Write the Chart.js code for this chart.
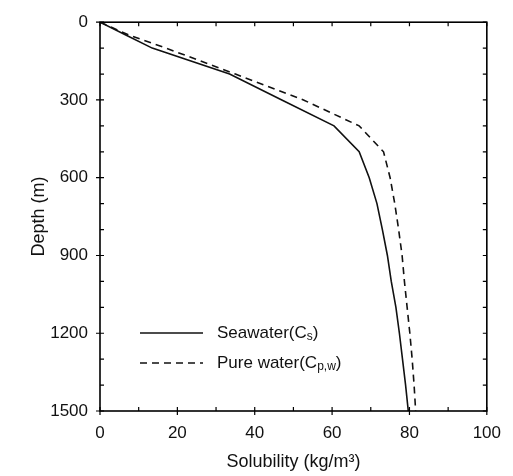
<!DOCTYPE html>
<html>
<head>
<meta charset="utf-8">
<script src="https://cdn.jsdelivr.net/npm/chart.js@4.4.1/dist/chart.umd.min.js"></script>
<style>
  html, body { margin: 0; padding: 0; background: #fff; }
  #wrap { width: 513px; height: 476px; }
</style>
</head>
<body>
<div id="wrap"><canvas id="chart" width="513" height="476"></canvas></div>
<script>
// depth (m) and solubility (kg/m3)
const depths = [0, 50, 100, 200, 300, 400, 500, 600, 700, 800, 900, 1000, 1100, 1200, 1300, 1400, 1500];
const seawater = [0, 6.8, 13.5, 33.5, 47, 60.5, 67, 69.6, 71.6, 73.0, 74.3, 75.3, 76.5, 77.4, 78.2, 79.0, 79.7];
const pureWater = [0, 7.5, 17.1, 35.0, 52.6, 67.0, 73.3, 75.0, 76.2, 77.2, 78.1, 78.7, 79.4, 80.1, 80.7, 81.2, 81.6];
const xTicks = [0, 20, 40, 60, 80, 100];
const yTicks = [0, 300, 600, 900, 1200, 1500];

const FONT = "'Liberation Sans', Arial, sans-serif";

function toPoints(vals) {
  return vals.map((v, i) => ({ x: v, y: depths[i] }));
}

// box + inward tick marks like the original plot
const framePlugin = {
  id: 'frame',
  afterDraw(chart) {
    const { ctx, chartArea: a, scales } = chart;
    const xs = scales.x, ys = scales.y;
    ctx.save();
    ctx.strokeStyle = '#000';
    ctx.lineWidth = 1.6;
    ctx.strokeRect(a.left, a.top, a.right - a.left, a.bottom - a.top);
    ctx.lineWidth = 1.2;
    ctx.beginPath();
    for (let v = 0; v <= 100; v += 10) {
      const px = xs.getPixelForValue(v);
      const major = xTicks.includes(v);
      ctx.moveTo(px, a.bottom + (major ? 4 : 0));
      ctx.lineTo(px, a.bottom - 4);
      ctx.moveTo(px, a.top);
      ctx.lineTo(px, a.top + 4);
    }
    for (let d = 0; d <= 1500; d += 100) {
      const py = ys.getPixelForValue(d);
      const major = yTicks.includes(d);
      ctx.moveTo(a.left - (major ? 4 : 0), py);
      ctx.lineTo(a.left + 4, py);
      ctx.moveTo(a.right, py);
      ctx.lineTo(a.right - 4, py);
    }
    ctx.stroke();
    ctx.restore();
  }
};

// legend inside the plot, with subscripts
const legendPlugin = {
  id: 'subLegend',
  afterDatasetsDraw(chart) {
    const { ctx, chartArea: a } = chart;
    const rows = [
      { ds: 0, dy: 78, parts: [['Seawater(C', false], ['s', true], [')', false]] },
      { ds: 1, dy: 48, parts: [['Pure water(C', false], ['p,w', true], [')', false]] }
    ];
    ctx.save();
    rows.forEach(r => {
      const ds = chart.data.datasets[r.ds];
      const y = a.bottom - r.dy;
      ctx.strokeStyle = ds.borderColor;
      ctx.lineWidth = ds.borderWidth;
      ctx.setLineDash(ds.borderDash || []);
      ctx.beginPath();
      ctx.moveTo(a.left + 40, y);
      ctx.lineTo(a.left + 103, y);
      ctx.stroke();
      ctx.setLineDash([]);
      let x = a.left + 117;
      ctx.fillStyle = '#111';
      ctx.textBaseline = 'middle';
      r.parts.forEach(([txt, sub]) => {
        ctx.font = (sub ? '12px ' : '17px ') + FONT;
        ctx.fillText(txt, x, sub ? y + 4 : y);
        x += ctx.measureText(txt).width;
      });
    });
    ctx.restore();
  }
};

new Chart(document.getElementById('chart'), {
  type: 'scatter',
  data: {
    datasets: [
      {
        label: 'Seawater(Cs)',
        data: toPoints(seawater),
        showLine: true,
        borderColor: '#111',
        borderWidth: 1.6,
        pointRadius: 0,
        tension: 0
      },
      {
        label: 'Pure water(Cp,w)',
        data: toPoints(pureWater),
        showLine: true,
        borderColor: '#111',
        borderWidth: 1.6,
        borderDash: [7, 5],
        pointRadius: 0,
        tension: 0
      }
    ]
  },
  options: {
    responsive: false,
    animation: false,
    layout: { padding: { top: 17, right: 19, left: 0, bottom: 0 } },
    plugins: {
      legend: { display: false },
      tooltip: { enabled: false }
    },
    scales: {
      x: {
        type: 'linear',
        min: 0,
        max: 100,
        afterFit: s => { s.height = 65; },
        afterBuildTicks: s => { s.ticks = xTicks.map(v => ({ value: v })); },
        grid: { display: false, drawTicks: false },
        border: { display: false },
        ticks: { color: '#111', padding: 12, font: { family: FONT, size: 17 }, callback: v => String(v) },
        title: {
          display: true,
          text: 'Solubility (kg/m³)',
          color: '#111',
          padding: { top: 0, bottom: 3 },
          font: { family: FONT, size: 18 }
        }
      },
      y: {
        type: 'linear',
        reverse: true,
        min: 0,
        max: 1500,
        afterFit: s => { s.width = 100; },
        afterBuildTicks: s => { s.ticks = yTicks.map(v => ({ value: v })); },
        grid: { display: false, drawTicks: false },
        border: { display: false },
        ticks: { color: '#111', padding: 12, font: { family: FONT, size: 17 }, callback: v => String(v) },
        title: {
          display: true,
          text: 'Depth (m)',
          color: '#111',
          padding: { top: 28, bottom: 0 },
          font: { family: FONT, size: 18 }
        }
      }
    }
  },
  plugins: [framePlugin, legendPlugin]
});
</script>
</body>
</html>
